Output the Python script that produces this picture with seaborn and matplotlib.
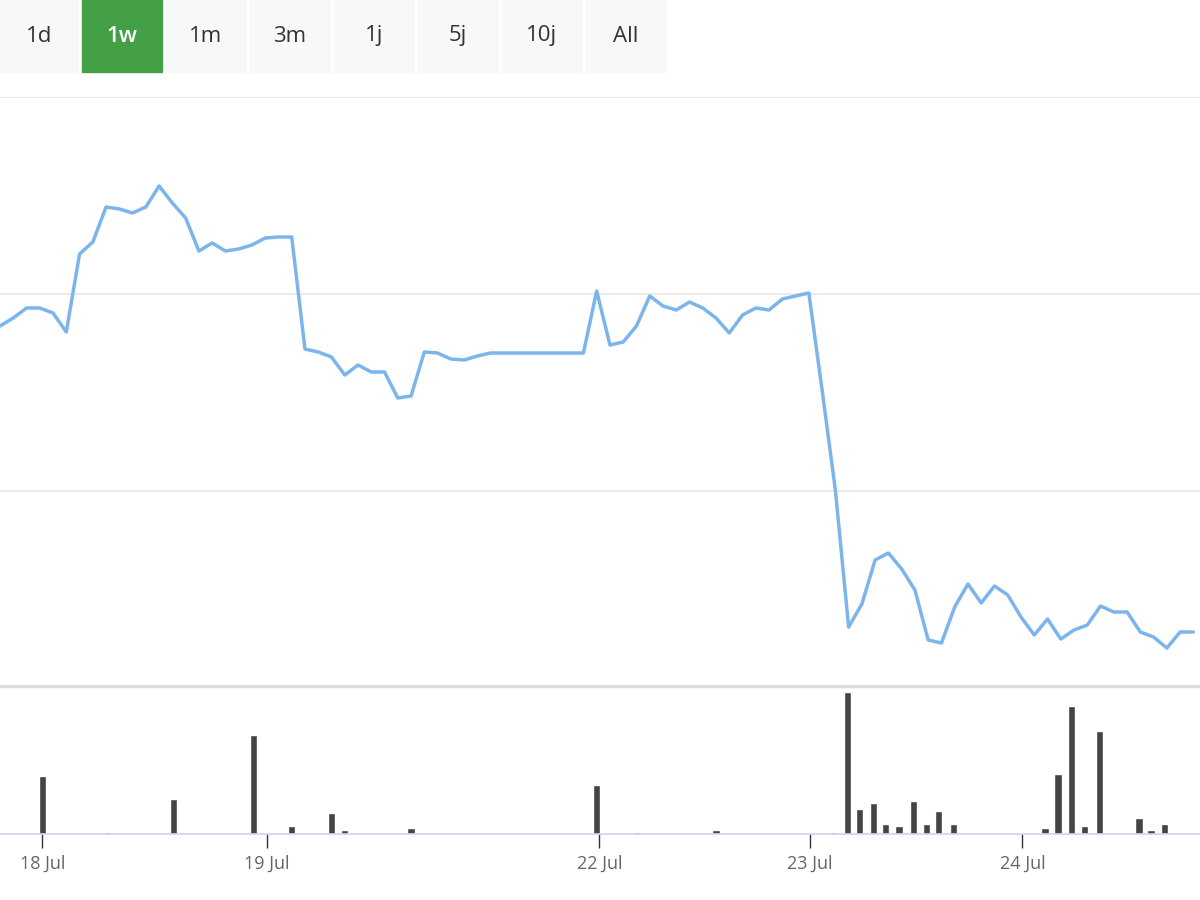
import numpy as np
import matplotlib
matplotlib.use("Agg")
import matplotlib.pyplot as plt
import seaborn as sns
from matplotlib.patches import Rectangle

# price series (arbitrary units, hidden y axis)
prices = [374, 382, 392, 392, 387, 368, 446, 458, 493, 491, 487, 493, 514, 497, 482,
          449, 457, 449, 451, 455, 462, 463, 463, 351, 348, 343, 325, 335, 328, 328,
          302, 304, 348, 347, 341, 340, 344, 347, 347, 347, 347, 347, 347, 347, 347,
          409, 355, 358, 374, 404, 394, 390, 398, 392, 382, 367, 385, 392, 390, 401,
          404, 407, 310, 210, 73, 96, 140, 147, 131, 110, 60, 57, 93, 116, 97,
          114, 105, 83, 65, 81, 61, 70, 75, 94, 88, 88, 68, 63, 52, 68, 68]
grid_levels = [12, 209, 406, 603]

vol_pos = [3.2, 8.1, 13.1, 19.1, 22, 25, 26, 31, 45, 48, 54, 62.9, 63.9, 64.8, 65.9,
           66.8, 67.8, 68.9, 69.9, 70.8, 71.9, 78.8, 79.8, 80.8, 81.8, 82.9, 85.9, 86.8, 87.8]
volumes = [56, 2, 34, 96, 8, 20, 4, 6, 48, 2, 4, 2, 138, 24, 30,
           10, 8, 32, 10, 22, 10, 6, 58, 124, 8, 100, 16, 4, 10]

tick_pos = [3.2, 20.1, 45.2, 61.1, 77.1]
tick_labels = ["18 Jul", "19 Jul", "22 Jul", "23 Jul", "24 Jul"]

buttons = ["1d", "1w", "1m", "3m", "1j", "5j", "10j", "All"]
active = "1w"

sns.set_style("white")
plt.rcParams['font.family'] = ['Open Sans', 'DejaVu Sans']

fig = plt.figure(figsize=(12, 9), dpi=100)
W, H = 1200, 900

# range selector buttons
for i, b in enumerate(buttons):
    x0 = max(i * 84 - 2, 0)
    w = 78 if i == 0 else 80
    col = "#43a047" if b == active else "#f7f8fa"
    fig.patches.append(Rectangle((x0 / W, 1 - 72 / H), w / W, 72 / H,
                                 transform=fig.transFigure, color=col, zorder=0))
    fig.text((x0 + w / 2) / W, 1 - 36 / H, b, ha="center", va="center", fontsize=16,
             color="white" if b == active else "#333333",
             fontweight="semibold" if b == active else "normal")

n = len(prices)
xmax = n - 0.5

# price panel
ax = fig.add_axes([0, 1 - 688 / H, 1, (688 - 97) / H])
sns.lineplot(x=np.arange(n), y=prices, ax=ax, color="#7cb5ec", linewidth=2.5)
ax.set_xlim(0, xmax)
ax.set_ylim(grid_levels[0], grid_levels[-1])
for g in grid_levels:
    ax.axhline(g, color="#e6e6e6", linewidth=1.2, zorder=0)
ax.set_xticks([])
ax.set_yticks([])
for s in ax.spines.values():
    s.set_visible(False)

# separator
fig.add_artist(plt.Line2D([0, 1], [1 - 686 / H] * 2, color="#dddddd", linewidth=2.5))

# volume panel
axv = fig.add_axes([0, 1 - 834 / H, 1, (834 - 690) / H])
axv.bar(vol_pos, volumes, width=0.55, color="#434348")
axv.set_xlim(0, xmax)
axv.set_ylim(0, 140)
axv.set_yticks([])
axv.set_xticks(tick_pos)
axv.set_xticklabels(tick_labels, fontsize=13, color="#666666")
axv.tick_params(axis="x", bottom=True, length=10, width=1, color="#333333", pad=5)
for s in ["top", "left", "right"]:
    axv.spines[s].set_visible(False)
axv.spines["bottom"].set_color("#ccd6eb")
axv.spines["bottom"].set_linewidth(1.2)

fig.savefig("out.png", dpi=100, facecolor="white")
